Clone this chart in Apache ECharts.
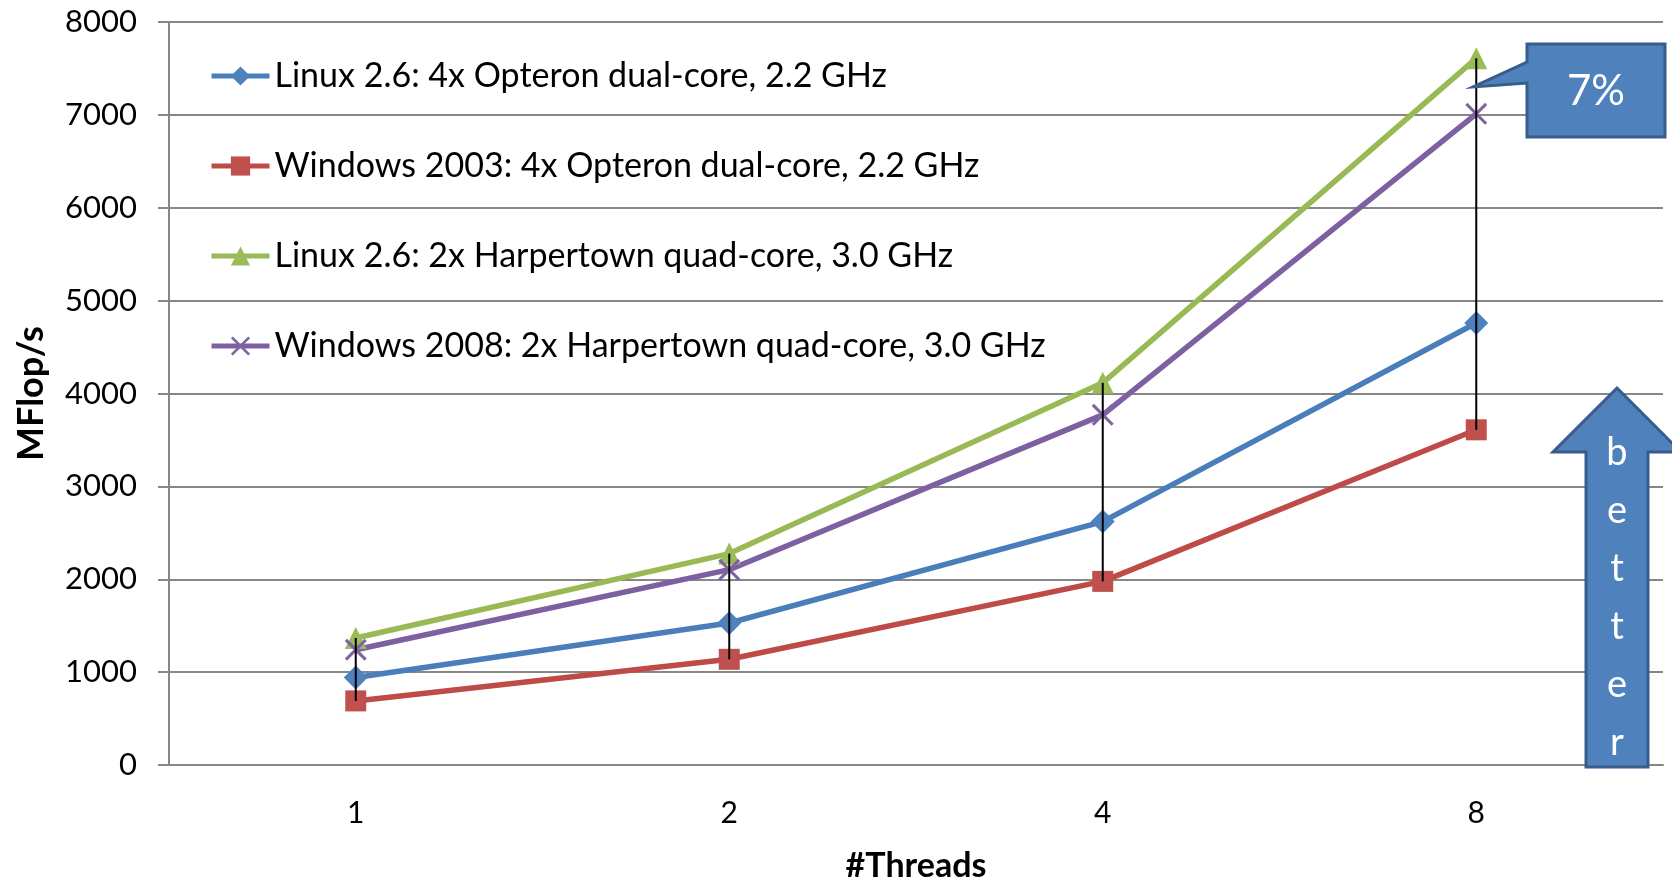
<!DOCTYPE html>
<html>
<head>
<meta charset="utf-8">
<script src="https://cdn.jsdelivr.net/npm/echarts@6/dist/echarts.min.js"></script>
<style>
  html, body { margin: 0; padding: 0; background: #fff; }
  #chart { width: 1672px; height: 882px; }
</style>
</head>
<body>
<div id="chart"></div>
<script>
// values (MFlop/s)
const threads = ['1', '2', '4', '8'];
const linuxOpteron = [943, 1529, 2621, 4759];
const win2003Opteron = [690, 1138, 1977, 3609];
const linuxHarpertown = [1368, 2276, 4115, 7609];
const win2008Harpertown = [1241, 2103, 3770, 7011];
const yTicks = [0, 1000, 2000, 3000, 4000, 5000, 6000, 7000, 8000];

const FONT = 'Lato, "Open Sans", sans-serif';
const crossPath = 'path://M0,1L1,0L10,9L9,10Z M9,0L10,1L1,10L0,9Z';

// high-low line per thread count, from lowest to highest series
const allSeries = [linuxOpteron, win2003Opteron, linuxHarpertown, win2008Harpertown];
const hiLo = threads.map((t, i) => {
    const vals = allSeries.map(s => s[i]);
    return [i, Math.min(...vals), Math.max(...vals)];
});

function lineSeries(name, data, color, fill, symbol, size) {
    return {
        name, type: 'line', data,
        symbol, symbolSize: size,
        lineStyle: { color, width: 5.5 },
        itemStyle: { color: fill },
        z: 3
    };
}

const chart = echarts.init(document.getElementById('chart'));
chart.setOption({
    animation: false,
    backgroundColor: '#fff',
    grid: { left: 169, right: 9, top: 22, bottom: 117, outerBoundsMode: 'none' },
    legend: {
        orient: 'vertical',
        left: 204, top: 54,
        itemWidth: 58, itemHeight: 24, itemGap: 56,
        lineStyle: { width: 5 },
        textStyle: { fontFamily: FONT, fontSize: 34, color: '#000', lineHeight: 34 },
        data: [
            'Linux 2.6: 4x Opteron dual-core, 2.2 GHz',
            'Windows 2003: 4x Opteron dual-core, 2.2 GHz',
            'Linux 2.6: 2x Harpertown quad-core, 3.0 GHz',
            'Windows 2008: 2x Harpertown quad-core, 3.0 GHz'
        ]
    },
    xAxis: {
        type: 'category', data: threads,
        name: '#Threads', nameLocation: 'middle', nameGap: 84,
        nameTextStyle: { fontFamily: FONT, fontSize: 34, fontWeight: 'bold', color: '#000' },
        axisLine: { lineStyle: { color: '#868686', width: 2 } },
        axisTick: { show: false },
        axisLabel: { fontFamily: FONT, fontSize: 30, color: '#000', margin: 33 }
    },
    yAxis: {
        type: 'value', min: yTicks[0], max: yTicks[yTicks.length - 1], interval: 1000,
        name: 'MFlop/s', nameLocation: 'middle', nameGap: 120, nameRotate: 90,
        nameTextStyle: { fontFamily: FONT, fontSize: 36, fontWeight: 'bold', color: '#000' },
        axisLine: { show: true, lineStyle: { color: '#868686', width: 2 } },
        axisTick: { show: true, length: 11, lineStyle: { color: '#868686', width: 2 } },
        axisLabel: { fontFamily: FONT, fontSize: 31, color: '#000', margin: 32, formatter: v => String(v) },
        splitLine: { lineStyle: { color: '#868686', width: 2 } }
    },
    series: [
        lineSeries('Linux 2.6: 4x Opteron dual-core, 2.2 GHz', linuxOpteron, '#4A7EBB', '#4F81BD', 'diamond', 24),
        lineSeries('Windows 2003: 4x Opteron dual-core, 2.2 GHz', win2003Opteron, '#BE4B48', '#C0504D', 'rect', 21),
        lineSeries('Linux 2.6: 2x Harpertown quad-core, 3.0 GHz', linuxHarpertown, '#98B954', '#9BBB59', 'triangle', 22),
        lineSeries('Windows 2008: 2x Harpertown quad-core, 3.0 GHz', win2008Harpertown, '#7D60A0', '#8064A2', crossPath, 22),
        {
            type: 'custom',
            data: hiLo,
            z: 5,
            renderItem: (params, api) => {
                const a = api.coord([api.value(0), api.value(1)]);
                const b = api.coord([api.value(0), api.value(2)]);
                return {
                    type: 'line',
                    shape: { x1: a[0], y1: a[1], x2: b[0], y2: b[1] },
                    style: { stroke: '#000', lineWidth: 2 }
                };
            }
        }
    ],
    graphic: [
        {
            // "7%" callout
            type: 'polygon', z: 10,
            shape: { points: [[1527, 44], [1665, 44], [1665, 137], [1527, 137], [1527, 83], [1473, 87], [1527, 62]] },
            style: { fill: '#4F81BD', stroke: '#385D8A', lineWidth: 3 }
        },
        {
            type: 'text', z: 11, x: 1596, y: 91,
            style: { text: '7%', fill: '#fff', fontFamily: FONT, fontSize: 42, align: 'center', verticalAlign: 'middle' }
        },
        {
            // "better" arrow
            type: 'polygon', z: 10,
            shape: { points: [[1617, 388], [1681, 452], [1648, 452], [1648, 767], [1586, 767], [1586, 452], [1553, 452]] },
            style: { fill: '#4F81BD', stroke: '#385D8A', lineWidth: 3 }
        },
        {
            type: 'text', z: 11, x: 1617, y: 424,
            style: { text: 'b\ne\nt\nt\ne\nr', fill: '#fff', fontFamily: FONT, fontSize: 38, lineHeight: 58, align: 'center', verticalAlign: 'top' }
        }
    ]
});
</script>
</body>
</html>
